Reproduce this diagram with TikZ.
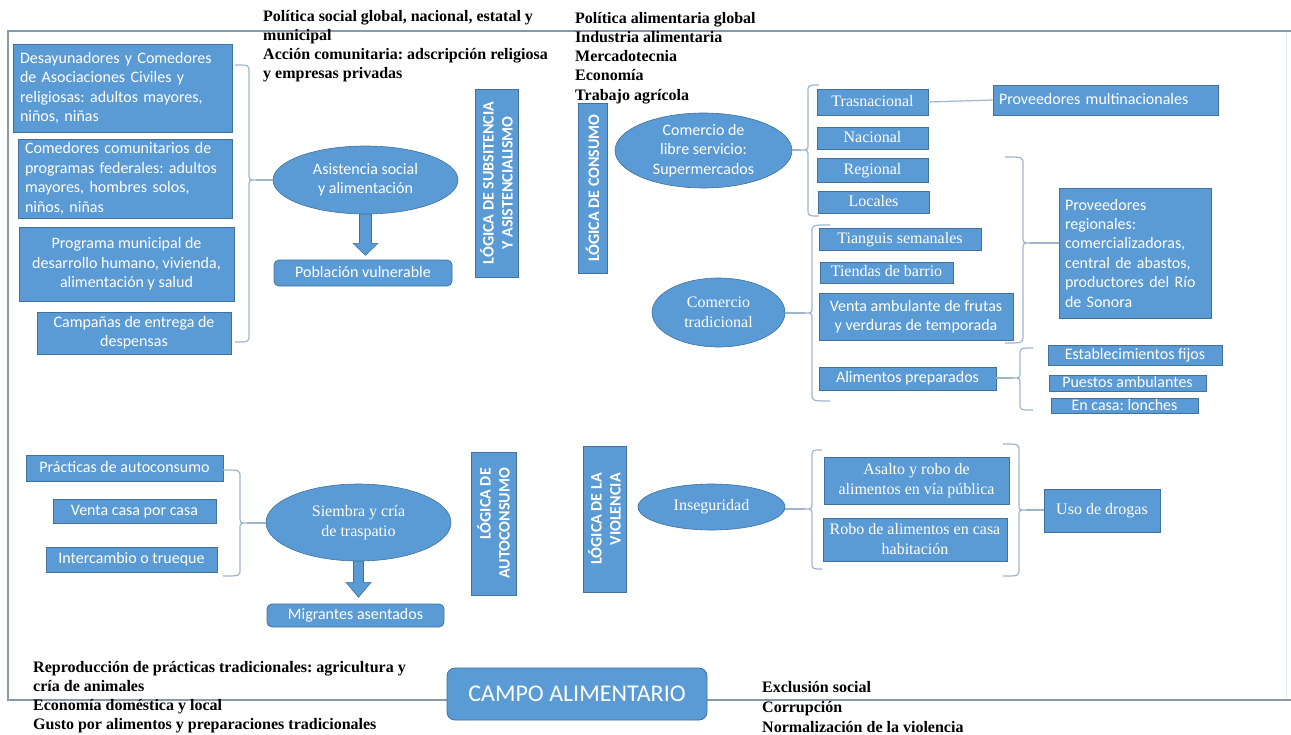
\documentclass[tikz,border=0pt]{standalone}
\usepackage{fontspec}
\setmainfont{Liberation Serif}
\newfontfamily\carlito{Carlito}
\usetikzlibrary{shapes.geometric}
\frenchspacing
\definecolor{boxc}{HTML}{5B9BD5}
\definecolor{bordc}{HTML}{41719C}
\definecolor{brcc}{HTML}{9FB4CB}
\definecolor{framec}{HTML}{8A99AA}
\definecolor{faintc}{HTML}{E2EEF4}
\newcommand\sfbx{\carlito\fontsize{16}{19.4}\selectfont}
\newcommand\srbx{\rmfamily\fontsize{16}{20}\selectfont}
\newcommand\hdrf{\rmfamily\bfseries\fontsize{16}{19.3}\selectfont}
\newcommand\vlab{\carlito\bfseries\fontsize{16}{19}\selectfont}
\newcommand\bigf{\carlito\fontsize{24}{28}\selectfont}
\newcommand\BrR[6]{%
  \draw[brc] (#1,#3) .. controls (#2,#3) .. (#2,#3+7) -- (#2,#4-7) .. controls (#2,#4) .. (#2+7,#4) .. controls (#2,#4) .. (#2,#4+7) -- (#2,#5-7) .. controls (#2,#5) .. (#1,#5);
  \coordinate (#6) at (#2+7,#4);}
\newcommand\BrL[6]{%
  \draw[brc] (#1,#3) .. controls (#2,#3) .. (#2,#3+7) -- (#2,#4-7) .. controls (#2,#4) .. (#2-7,#4) .. controls (#2,#4) .. (#2,#4+7) -- (#2,#5-7) .. controls (#2,#5) .. (#1,#5);
  \coordinate (#6) at (#2-7,#4);}
\tikzset{
 bx/.style={draw=bordc, line width=0.8pt, fill=boxc, text=white, inner xsep=3pt, inner ysep=1pt, align=center, font=\sfbx},
 sr/.style={font=\srbx},
 one/.style={text height=12pt, text depth=3.5pt, inner ysep=0pt},
 rnd/.style={rounded corners=5pt},
 ell/.style={ellipse, draw=bordc, line width=0.6pt, fill=boxc, text=white, inner sep=0pt, align=center, font=\sfbx},
 vbx/.style={bx, font=\vlab, rotate=90, inner sep=0pt},
 brc/.style={draw=brcc, line width=1.2pt},
 hdr/.style={anchor=north west, inner sep=0pt, align=left, font=\hdrf, text=black},
 arr/.style={fill=boxc, draw=bordc, line width=0.6pt},
 framest/.style={draw=framec, line width=1.2pt},
}
\begin{document}
\begin{tikzpicture}[x=1pt,y=-1pt]
\useasboundingbox (0,0) rectangle (1291,734);
\draw[draw=faintc, line width=1pt] (1286,31) -- (1286,700);
\draw[framest] (1291,31) -- (8,31) -- (8,700) -- (1291,700);

% header texts
\node[hdr] (h1) at (263,9.7) {Política social global, nacional, estatal y\\municipal\\Acción comunitaria: adscripción religiosa\\y empresas privadas};
\node[hdr] (h2) at (575,11.7) {Política alimentaria global\\Industria alimentaria\\Mercadotecnia\\Economía\\Trabajo agrícola};
\node[hdr] (h3) at (33,660.7) {Reproducción de prácticas tradicionales: agricultura y\\cría de animales\\Economía doméstica y local\\Gusto por alimentos y preparaciones tradicionales};
\node[hdr, font={\rmfamily\bfseries\fontsize{16}{20}\selectfont}] (h4) at (762,681) {Exclusión social\\Corrupción\\Normalización de la violencia};

% left column
\node[bx, align=left, text width=205pt, inner xsep=7pt, minimum height=88pt] (b1) at (122.5,88) {Desayunadores y Comedores\\de Asociaciones Civiles y\\religiosas: adultos mayores,\\niños, niñas};
\node[bx, align=left, text width=200pt, inner xsep=7pt, inner ysep=0pt, minimum height=79pt] (b2) at (125,178.5) {Comedores comunitarios de\\programas federales: adultos\\mayores, hombres solos,\\niños, niñas};
\node[bx, minimum width=215pt, minimum height=74pt] (b3) at (126.5,264) {Programa municipal de\\desarrollo humano, vivienda,\\alimentación y salud};
\node[bx, minimum width=194pt, minimum height=42pt] (b4) at (134,333) {Campañas de entrega de\\despensas};

\node[ell, minimum width=185pt, minimum height=68pt] (asis) at (365.5,180) {Asistencia social\\y alimentación};
\node[bx, one, rnd, minimum width=178pt, minimum height=26pt] (pob) at (363,273) {Población vulnerable};

% vertical labels
\node[vbx, minimum width=188pt, minimum height=43pt] (v1) at (496.5,183) {LÓGICA DE SUBSITENCIA\\Y ASISTENCIALISMO};
\node[vbx, minimum width=170pt, minimum height=29pt] (v2) at (592.5,188) {LÓGICA DE CONSUMO};
\node[vbx, align=right, minimum width=143pt, minimum height=45pt] (v3) at (493.5,523.5) {LÓGICA DE\\AUTOCONSUMO};
\node[vbx, align=right, minimum width=146pt, minimum height=43pt] (v4) at (604.5,519) {LÓGICA DE LA\\VIOLENCIA};

% consumo
\node[ell, minimum width=177pt, minimum height=75pt] (super) at (703.5,150.5) {Comercio de\\libre servicio:\\Supermercados};
\node[bx, sr, one, minimum width=111pt, minimum height=26pt] (tras) at (872.5,102) {Trasnacional};
\node[bx, sr, one, minimum width=111pt, minimum height=22pt] (nac) at (872.5,138) {Nacional};
\node[bx, sr, one, minimum width=111pt, minimum height=24pt] (reg) at (872.5,170) {Regional};
\node[bx, sr, one, minimum width=111pt, minimum height=22pt] (loc) at (873.5,202) {Locales};
\node[bx, one, align=left, text width=213pt, inner xsep=6pt, minimum height=30pt] (provmult) at (1105.5,100) {Proveedores multinacionales};

\node[ell, font=\srbx, minimum width=133pt, minimum height=69pt] (trad) at (718.5,312.5) {Comercio\\tradicional};
\node[bx, sr, one, minimum width=162pt, minimum height=22pt] (tiang) at (900,239) {Tianguis semanales};
\node[bx, sr, one, minimum width=133pt, minimum height=21pt] (tiend) at (886.5,272.5) {Tiendas de barrio};
\node[bx, inner xsep=1pt, minimum width=194pt, minimum height=47pt] (venta) at (916,316.5) {Venta ambulante de frutas\\y verduras de temporada};
\node[bx, one, minimum width=177pt, minimum height=23pt] (alim) at (907.5,378.5) {Alimentos preparados};
\node[bx, align=left, text width=140pt, inner xsep=6pt, minimum height=130pt] (provreg) at (1135,253) {Proveedores\\regionales:\\comercializadoras,\\central de abastos,\\productores del Río\\de Sonora};
\node[bx, one, minimum width=174pt, minimum height=20pt] (estab) at (1135,355) {Establecimientos fijos};
\node[bx, one, minimum width=157pt, minimum height=16pt] (puest) at (1127.5,383) {Puestos ambulantes};
\node[bx, one, minimum width=147pt, minimum height=14pt] (casa) at (1124.5,406) {En casa: lonches};

% autoconsumo
\node[bx, one, minimum width=197pt, minimum height=26pt] (prac) at (124.5,468) {Prácticas de autoconsumo};
\node[bx, one, minimum width=163pt, minimum height=24pt] (vcasa) at (134.5,511) {Venta casa por casa};
\node[bx, one, minimum width=171pt, minimum height=25pt] (inter) at (131.5,559.5) {Intercambio o trueque};
\node[ell, font=\srbx, minimum width=185pt, minimum height=77pt] (siembra) at (358.5,522.5) {Siembra y cría\\de traspatio};
\node[bx, one, rnd, minimum width=177pt, minimum height=23pt] (migr) at (355.5,615.5) {Migrantes asentados};

% violencia
\node[ell, font=\srbx, minimum width=147pt, minimum height=46pt] (inseg) at (711.5,507) {Inseguridad};
\node[bx, sr, minimum width=185pt, minimum height=47pt] (asalto) at (916.5,480.5) {Asalto y robo de\\alimentos en vía pública};
\node[bx, sr, minimum width=184pt, minimum height=43pt] (roboc) at (915,539.5) {Robo de alimentos en casa\\habitación};
\node[bx, sr, one, minimum width=116pt, minimum height=43pt] (drogas) at (1102,510.5) {Uso de drogas};

\node[bx, font=\bigf, rounded corners=8pt, minimum width=260pt, minimum height=52pt] (campo) at (577,694) {CAMPO ALIMENTARIO};

% braces
\BrR{235}{249}{65}{180}{342}{t1}
\BrL{819}{808}{85}{150}{216}{t2}
\BrL{830}{812}{225}{313}{401}{t3}
\BrR{1005}{1023}{157}{243}{343}{t4}
\BrL{1033}{1020}{348}{378}{410}{t5}
\BrR{223}{240}{470}{523}{576}{t6}
\BrL{822}{812}{450}{509}{569}{t7}
\BrR{1003}{1019}{444}{510}{576}{t8}
\draw[brc] (t1) -- (t1 -| asis.west);
\draw[brc] (t2) -- (t2 -| super.east);
\draw[brc] (t3) -- (t3 -| trad.east);
\draw[brc] (t4) -- (t4 -| provreg.west);
\draw[brc] (t5) -- (t5 -| alim.east);
\draw[brc] (t6) -- (t6 -| siembra.west);
\draw[brc] (t7) -- (t7 -| inseg.east);
\draw[brc] (t8) -- (t8 -| drogas.west);
\draw[brc] (tras.east) -- (provmult.west);

% block arrows
\draw[arr] (asis.south) ++(-6,0) -- ++(12,0) -- ++(0,29) -- ++(6.5,0) -- ++(-12.5,12) -- ++(-12.5,-12) -- ++(6.5,0) -- cycle;
\draw[arr] (siembra.south) ++(-5,0) -- ++(10,0) -- ++(0,21) -- ++(7.5,0) -- ++(-12.5,15) -- ++(-12.5,-15) -- ++(7.5,0) -- cycle;
\end{tikzpicture}
\end{document}
